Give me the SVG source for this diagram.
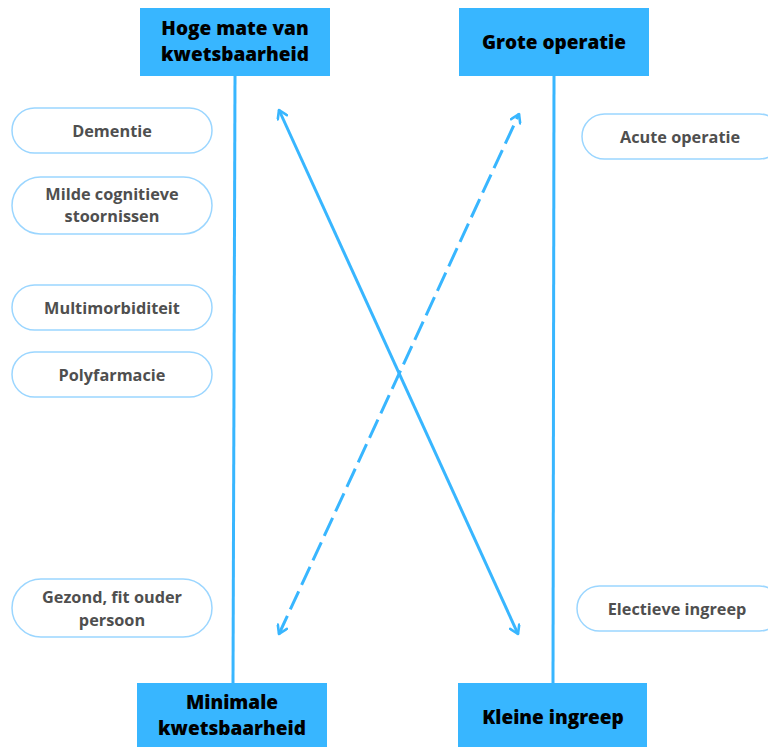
<svg xmlns="http://www.w3.org/2000/svg" width="768" height="747" viewBox="0 0 768 747">
<style>
.box{fill:#38b6ff}
.bt{font-family:"Open Sans","Liberation Sans",sans-serif;font-weight:800;font-size:19px;fill:#000;text-anchor:middle;dominant-baseline:central}
.pill{fill:#fff;stroke:#9bd6ff;stroke-width:1.5}
.pt{font-family:"Open Sans","Liberation Sans",sans-serif;font-weight:700;font-size:16.3px;fill:#4f4f4f;text-anchor:middle;dominant-baseline:central}
.ln{stroke:#38b6ff;stroke-width:3;fill:none}
</style>
<defs>
<marker id="ah" viewBox="0 0 12 12" refX="10" refY="6" markerWidth="12" markerHeight="12" markerUnits="userSpaceOnUse" orient="auto-start-reverse">
<path d="M2,1 L10,6 L2,11" fill="none" stroke="#38b6ff" stroke-width="2.6" stroke-linecap="round" stroke-linejoin="round"/>
</marker>
</defs>
<g id="connectors">
<line class="ln" x1="235" y1="76" x2="233" y2="684"/>
<line class="ln" x1="554" y1="76" x2="553" y2="684"/>
<line class="ln" x1="279" y1="110" x2="518" y2="634" marker-start="url(#ah)" marker-end="url(#ah)"/>
<line class="ln" x1="279" y1="634" x2="519" y2="114" stroke-dasharray="20 7" marker-start="url(#ah)" marker-end="url(#ah)"/>
</g>
<g id="hoge">
<rect class="box" x="140" y="8" width="190" height="68"/>
<text class="bt" x="235" y="28">Hoge mate van</text>
<text class="bt" x="235" y="54">kwetsbaarheid</text>
</g>
<g id="grote">
<rect class="box" x="459" y="8" width="190" height="68"/>
<text class="bt" x="554" y="42">Grote operatie</text>
</g>
<g id="minimale">
<rect class="box" x="137" y="683" width="190" height="64"/>
<text class="bt" x="232" y="702">Minimale</text>
<text class="bt" x="232" y="728">kwetsbaarheid</text>
</g>
<g id="kleine">
<rect class="box" x="458" y="683" width="189" height="64"/>
<text class="bt" x="553" y="717">Kleine ingreep</text>
</g>
<g id="dementie">
<rect class="pill" x="12" y="108" width="200" height="45" rx="22.5"/>
<text class="pt" x="112" y="131">Dementie</text>
</g>
<g id="milde">
<rect class="pill" x="12" y="177" width="200" height="57" rx="28.5"/>
<text class="pt" x="112" y="194">Milde cognitieve</text>
<text class="pt" x="112" y="216">stoornissen</text>
</g>
<g id="multimorbiditeit">
<rect class="pill" x="12" y="285" width="200" height="45" rx="22.5"/>
<text class="pt" x="112" y="308">Multimorbiditeit</text>
</g>
<g id="polyfarmacie">
<rect class="pill" x="12" y="352" width="200" height="45" rx="22.5"/>
<text class="pt" x="112" y="375">Polyfarmacie</text>
</g>
<g id="gezond">
<rect class="pill" x="12" y="579" width="200" height="58" rx="29"/>
<text class="pt" x="112" y="597">Gezond, fit ouder</text>
<text class="pt" x="112" y="620">persoon</text>
</g>
<g id="acute">
<rect class="pill" x="582" y="114" width="200" height="45" rx="22.5"/>
<text class="pt" x="680" y="137">Acute operatie</text>
</g>
<g id="electieve">
<rect class="pill" x="577" y="586" width="205" height="45" rx="22.5"/>
<text class="pt" x="677" y="609">Electieve ingreep</text>
</g>
</svg>
